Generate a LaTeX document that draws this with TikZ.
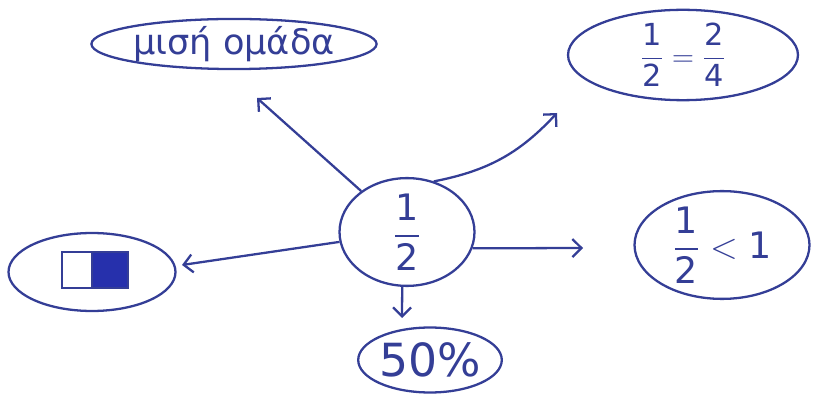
\documentclass[tikz,border=0pt]{standalone}
\usepackage{amsmath}
\usepackage{fontspec}
\setmainfont{DejaVu Sans}
\usepackage{tikz}
\usetikzlibrary{shapes.geometric , arrows.meta}
\definecolor{ink}{RGB}{52,62,150}
\definecolor{inkfill}{RGB}{38,48,172}

\begin{document}
\begin{tikzpicture}[x = 0.02cm , y = -0.02cm ,
    bubble/.style = {draw = ink , line width = 1.3pt , ellipse , inner sep = 0pt , text = ink},
    link/.style = {draw = ink , line width = 1.3pt , -{Straight Barb[length = 1.8mm , width = 3.6mm]}}]
    \useasboundingbox (0,0) rectangle (820,401);
    % Κέντρο
    \node[bubble , minimum width = 2.7cm , minimum height = 1.9cm] (half) at (407,232) {\huge $\dfrac{\text{1}}{\text{2}}$};
    % Φυσαλίδες
    \node[bubble , minimum width = 5.36cm , minimum height = 0.96cm] (group) at (234,44) {\fontsize{20}{24}\selectfont μισή ομάδα};
    \node[bubble , minimum width = 4.6cm , minimum height = 1.76cm] (equal) at (683,55) {\LARGE $\dfrac{\text{1}}{\text{2}} = \dfrac{\text{2}}{\text{4}}$};
    \node[bubble , minimum width = 3.34cm , minimum height = 1.56cm] (square) at (92,272) {};
    \node[bubble , minimum width = 3.5cm , minimum height = 1.88cm] (less) at (722,245) {\huge $\dfrac{\text{1}}{\text{2}} < \text{1}$};
    \node[bubble , minimum width = 2.76cm , minimum height = 1.3cm] (percent) at (430,360) {\fontsize{26}{30}\selectfont 50\%};
    % Τετράγωνο
    \draw[ink , line width = 1.3pt] (62,252) rectangle (92,288);
    \filldraw[draw = ink , fill = inkfill , line width = 1.3pt] (92,252) rectangle (128,288);
    % Βέλη
    \coordinate (tl) at (257,98);
    \coordinate (tr) at (557,113);
    \coordinate (lt) at (182,265);
    \coordinate (rt) at (583,248);
    \coordinate (dn) at (402,318);
    \draw[link] (half) -- (tl);
    \draw[link] (half.62) to[bend right = 18] (tr);
    \draw[link] (half) -- (lt);
    \draw[link] (half.-14) -- (rt);
    \draw[link] (half.265) -- (dn);
\end{tikzpicture}
\end{document}
